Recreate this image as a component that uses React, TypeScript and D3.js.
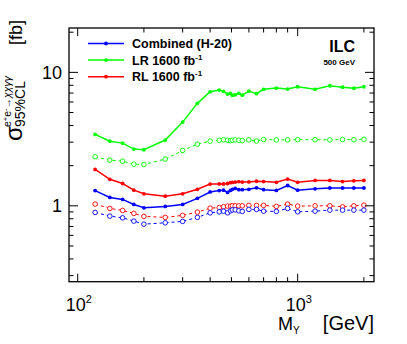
import React from "react";
import * as d3 from "d3";

// masses [GeV]
const masses = [120, 140, 160, 180, 200, 250, 300, 350, 400, 440, 460, 480, 495, 505, 520, 540, 560, 600, 650, 700, 800, 900, 1000, 1200, 1400, 1600, 1800, 2000];

// sigma limits [fb]
const lrFull = [3.43, 3.05, 2.95, 2.66, 2.63, 3.11, 4.24, 5.86, 7.15, 7.37, 7.2, 6.88, 6.96, 6.72, 6.79, 6.96, 6.75, 7.24, 6.92, 7.46, 7.63, 7.5, 7.8, 7.46, 7.94, 7.74, 7.6, 7.8];
const lrOpen = [2.33, 2.2, 2.16, 2.05, 2.04, 2.24, 2.6, 2.9, 3.05, 3.1, 3.12, 3.1, 3.08, 3.1, 3.12, 3.1, 3.08, 3.12, 3.06, 3.14, 3.12, 3.12, 3.13, 3.13, 3.12, 3.14, 3.13, 3.15];
const rlFull = [1.875, 1.58, 1.47, 1.31, 1.23, 1.18, 1.23, 1.33, 1.455, 1.46, 1.46, 1.47, 1.49, 1.5, 1.505, 1.52, 1.505, 1.51, 1.53, 1.52, 1.5, 1.585, 1.5, 1.55, 1.55, 1.52, 1.54, 1.55];
const rlOpen = [1.03, 0.956, 0.924, 0.877, 0.833, 0.819, 0.848, 0.897, 0.96, 0.97, 0.983, 0.995, 0.995, 1.0, 1.0, 1.0, 1.0, 1.007, 1.007, 1.007, 0.99, 1.03, 0.995, 1.0, 1.0, 0.983, 1.0, 1.012];
const combFull = [1.3, 1.156, 1.117, 1.024, 0.966, 0.99, 1.024, 1.137, 1.27, 1.3, 1.31, 1.26, 1.305, 1.33, 1.35, 1.32, 1.32, 1.33, 1.365, 1.32, 1.305, 1.42, 1.31, 1.34, 1.36, 1.36, 1.36, 1.36];
const combOpen = [0.892, 0.837, 0.813, 0.768, 0.729, 0.746, 0.764, 0.819, 0.886, 0.902, 0.912, 0.886, 0.917, 0.933, 0.933, 0.917, 0.908, 0.94, 0.94, 0.912, 0.908, 0.956, 0.902, 0.912, 0.928, 0.928, 0.928, 0.928];

const legendLabels = ["Combined (H-20)", "LR 1600 fb", "RL 1600 fb"];
const legendSup = ["", "-1", "-1"];
const colors = ["#0000ff", "#00ff00", "#ff0000"];

const W = 407;
const H = 344;
const left = 69, right = 374, top = 28, bottom = 281.7;
const font = "'Liberation Sans', Arial, Helvetica, sans-serif";

export default function App() {
  const x = d3.scaleLog().domain([91.3, 2223]).range([left, right]);
  const y = d3.scaleLog().domain([0.27, 21.5]).range([bottom, top]);

  const line = d3
    .line<number>()
    .x((_, i) => x(masses[i]))
    .y((d) => y(d));

  // full and open (dashed) curves
  const curves = [
    { data: lrOpen, c: colors[1], open: true },
    { data: rlOpen, c: colors[2], open: true },
    { data: combOpen, c: colors[0], open: true },
    { data: lrFull, c: colors[1], open: false },
    { data: rlFull, c: colors[2], open: false },
    { data: combFull, c: colors[0], open: false },
  ];

  const xTicks = x.ticks().filter((t) => t >= 91.3 && t <= 2223);
  const yTicks = y.ticks().filter((t) => t >= 0.27 && t <= 21.5);
  const isMajor = (t: number) => Math.abs(Math.log10(t) - Math.round(Math.log10(t))) < 1e-6;

  return (
    <svg width={W} height={H} style={{ position: "absolute", left: 0, top: 0, fontFamily: font }}>
      <rect width={W} height={H} fill="#fff" />

      {/* curves */}
      {curves.map((s, k) => (
        <g key={k}>
          <path
            d={line(s.data) || ""}
            fill="none"
            stroke={s.c}
            strokeWidth={s.open ? 1 : 1.5}
            strokeDasharray={s.open ? "3,3" : undefined}
          />
          {s.data.map((v, i) =>
            s.open ? (
              <circle key={i} cx={x(masses[i])} cy={y(v)} r={2.3} fill="#fff" stroke={s.c} strokeWidth={0.9} />
            ) : (
              <circle key={i} cx={x(masses[i])} cy={y(v)} r={1.9} fill={s.c} />
            )
          )}
        </g>
      ))}

      {/* frame + ticks */}
      <rect x={left} y={top} width={right - left} height={bottom - top} fill="none" stroke="#000" strokeWidth={1.3} />
      {xTicks.map((t) => {
        const len = isMajor(t) ? 8 : 4.5;
        return (
          <g key={"x" + t} stroke="#000" strokeWidth={1}>
            <line x1={x(t)} x2={x(t)} y1={bottom} y2={bottom - len} />
            <line x1={x(t)} x2={x(t)} y1={top} y2={top + len} />
          </g>
        );
      })}
      {yTicks.map((t) => {
        const len = isMajor(t) ? 9 : 4.5;
        return (
          <g key={"y" + t} stroke="#000" strokeWidth={1}>
            <line x1={left} x2={left + len} y1={y(t)} y2={y(t)} />
            <line x1={right} x2={right - len} y1={y(t)} y2={y(t)} />
          </g>
        );
      })}

      {/* y tick labels */}
      <text x={62} y={y(10) + 6.5} fontSize={18} textAnchor="end">10</text>
      <text x={62} y={y(1) + 6.5} fontSize={18} textAnchor="end">1</text>

      {/* x tick labels */}
      {[100, 1000].map((t) => (
        <text key={t} x={x(t) - 12} y={311} fontSize={18}>
          10
          <tspan dy={-8} fontSize={11}>{Math.round(Math.log10(t))}</tspan>
        </text>
      ))}

      {/* x title */}
      <text x={278} y={330} fontSize={18}>
        M
        <tspan dy={4} fontSize={10}>Y</tspan>
      </text>
      <text x={374} y={330} fontSize={20} textAnchor="end">[GeV]</text>

      {/* y title */}
      <g transform="translate(22,141) rotate(-90)">
        <text x={0} y={0} fontSize={24}>σ</text>
        <text x={14} y={-11} fontSize={10.5}>
          e<tspan dy={-3} fontSize={7.5}>+</tspan>
          <tspan dy={3}>e</tspan>
          <tspan dy={-3} fontSize={7.5}>-</tspan>
          <tspan dy={3}>→</tspan>
          <tspan fontStyle="italic">χχγγ</tspan>
        </text>
        <text x={14} y={3} fontSize={14}>95%CL</text>
        <text x={96} y={0} fontSize={18}>[fb]</text>
      </g>

      {/* legend */}
      {legendLabels.map((l, i) => {
        const ly = 43.5 + i * 16.6;
        return (
          <g key={l}>
            <line x1={88} x2={124} y1={ly} y2={ly} stroke={colors[i]} strokeWidth={1.5} />
            <circle cx={106} cy={ly} r={1.9} fill={colors[i]} />
            <text x={132} y={ly + 4.5} fontSize={12.5} fontWeight="bold">
              {l}
              {legendSup[i] && (
                <tspan dy={-5} fontSize={8}>
                  {legendSup[i]}
                </tspan>
              )}
            </text>
          </g>
        );
      })}

      {/* ILC label */}
      <text x={355} y={52} fontSize={16} fontWeight="bold" textAnchor="end">ILC</text>
      <text x={355} y={65} fontSize={8} fontWeight="bold" textAnchor="end">500 GeV</text>
    </svg>
  );
}
